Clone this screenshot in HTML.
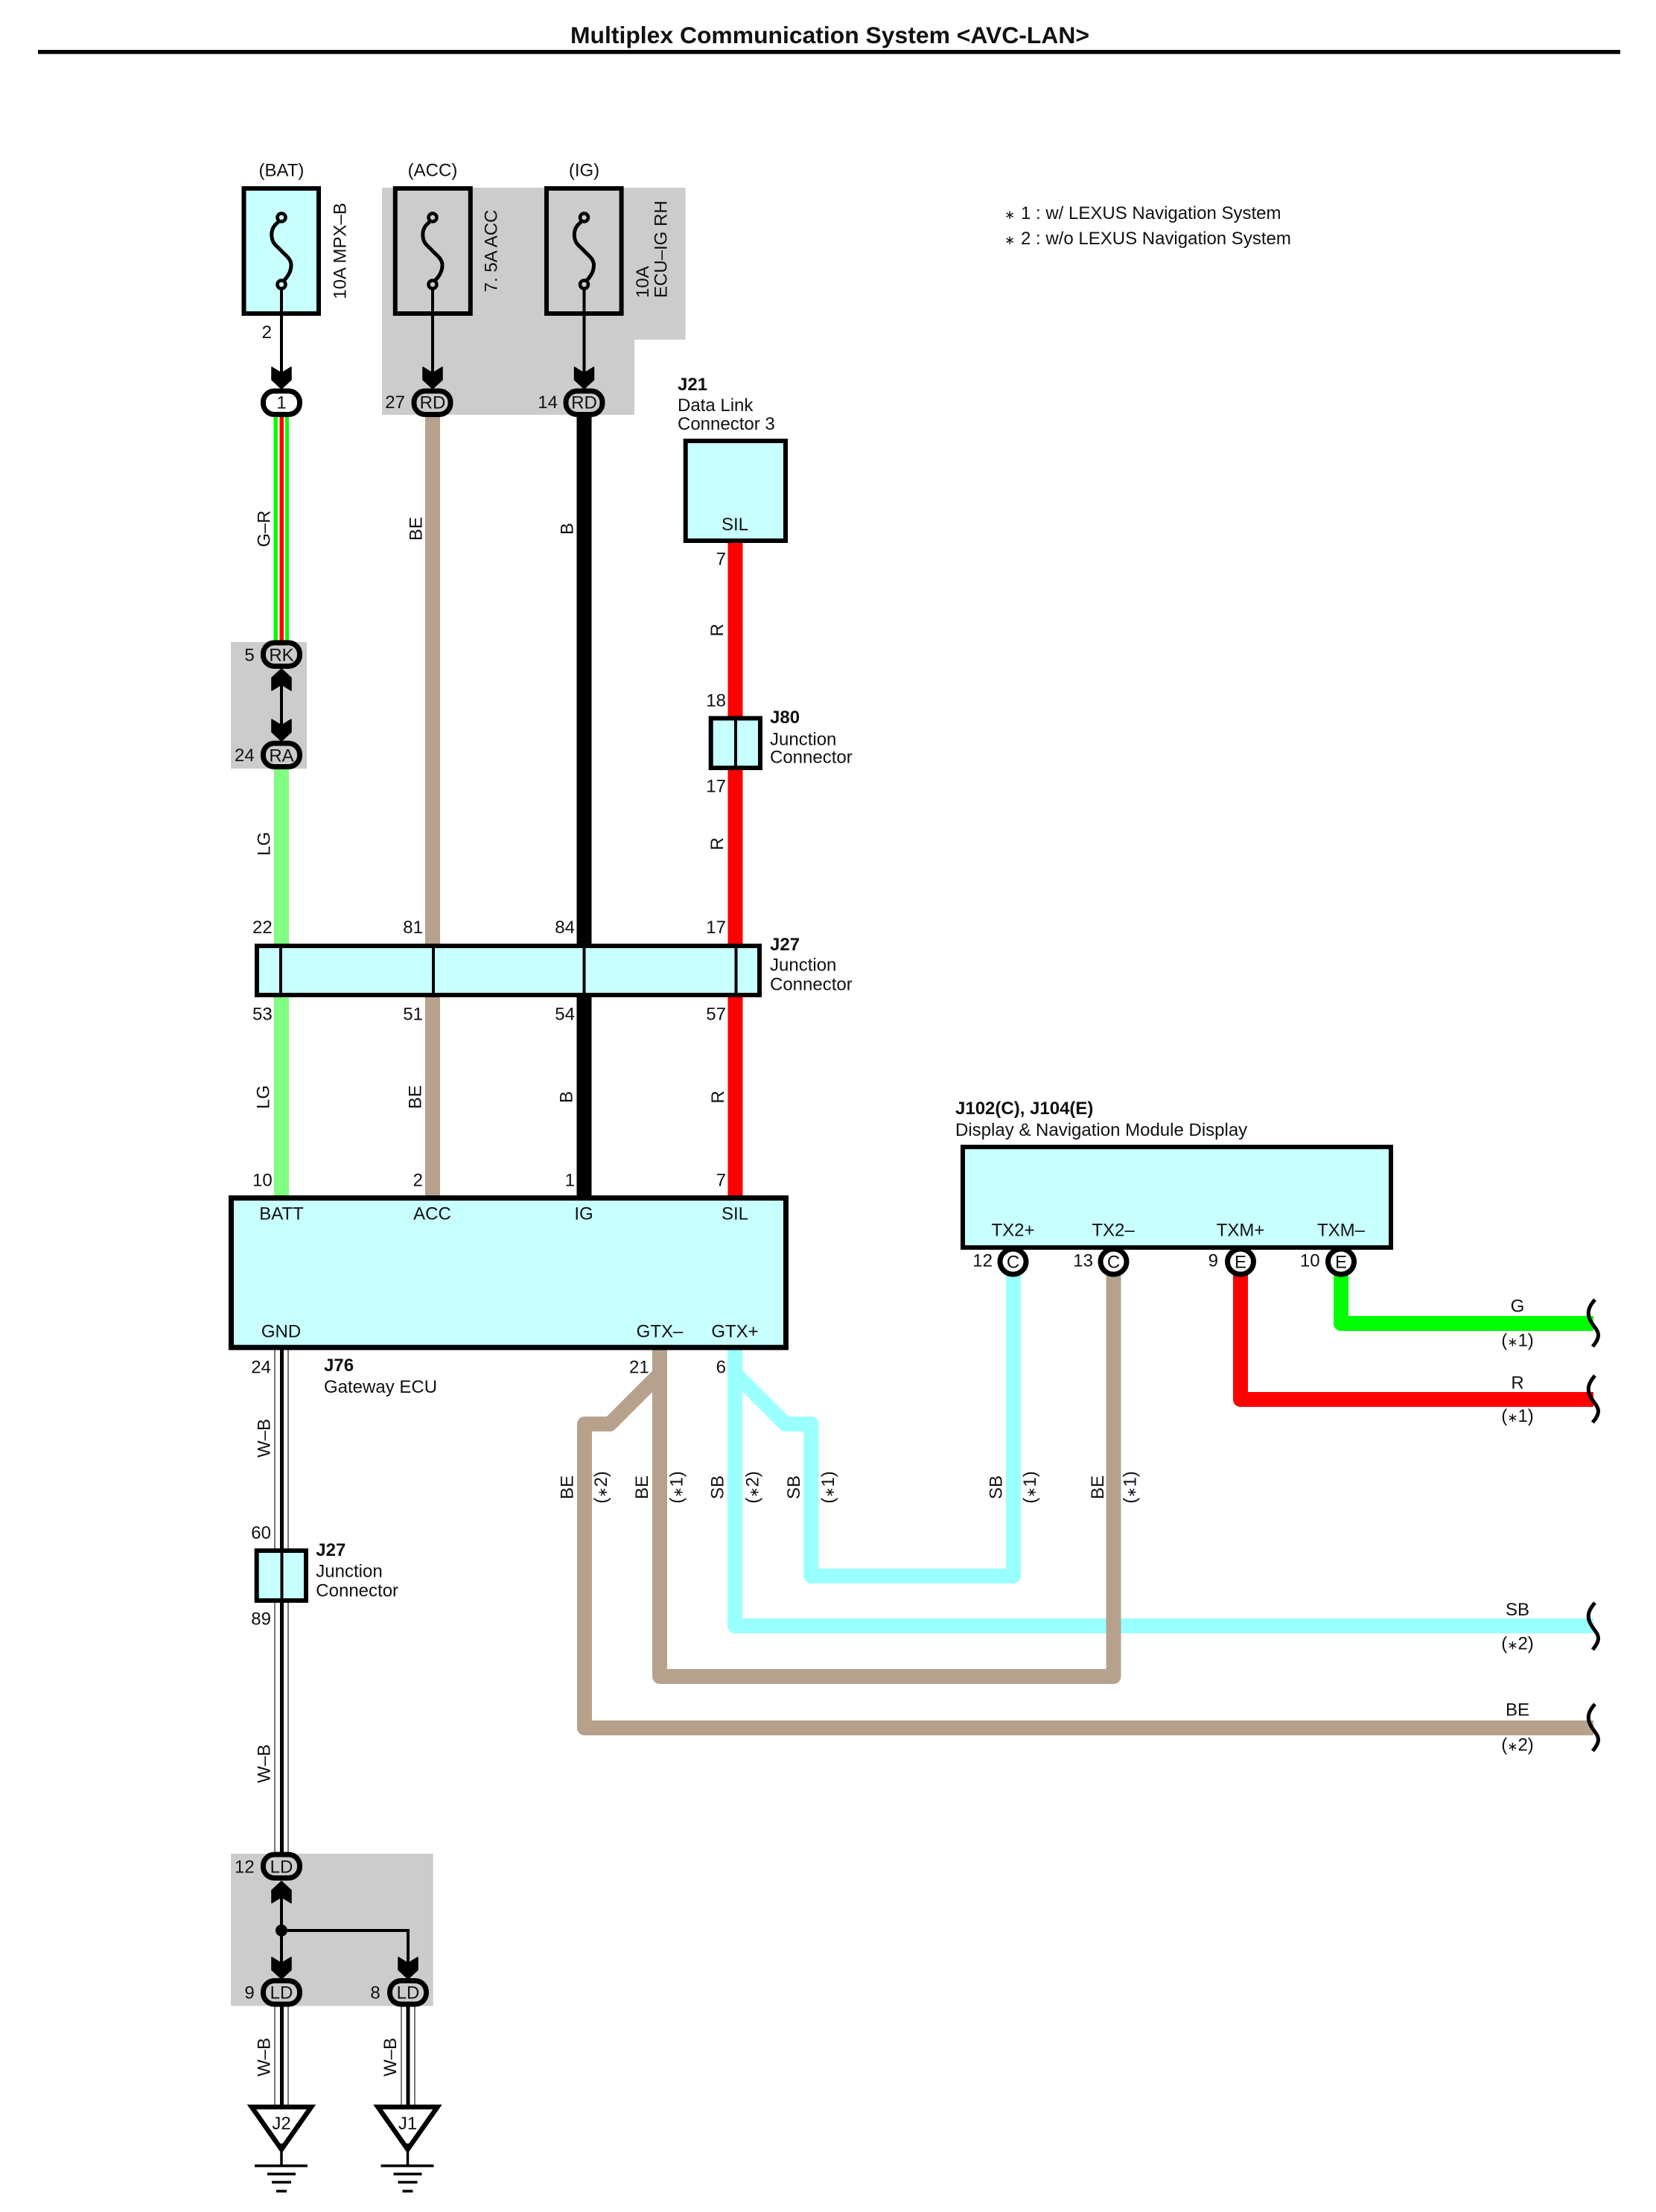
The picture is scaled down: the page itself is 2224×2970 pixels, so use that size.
<!DOCTYPE html>
<html><head><meta charset="utf-8"><title>Multiplex Communication System</title>
<style>
html,body{margin:0;padding:0;background:#fff}
svg{display:block}
text{font-family:"Liberation Sans",Arial,sans-serif;font-size:24px;fill:#111}
.m{text-anchor:middle}.e{text-anchor:end}
.b{font-weight:bold}
.s{font-size:17px}
</style></head><body>
<svg xmlns="http://www.w3.org/2000/svg" width="2224" height="2970" viewBox="0 0 2224 2970">
<defs>
<path id="ad" d="M0,0 L-13,-12 L-13,-29 L0,-21 L13,-29 L13,-12 Z" fill="#000" stroke="#000" stroke-width="1.5" stroke-linejoin="round"/>
<path id="sq" d="M2142,0 C2134,9 2131,17 2135,26 C2139,36 2149,42 2146,51 C2145,56 2141,60 2139,63" fill="none" stroke="#000" stroke-width="5"/>
<g id="gnd" fill="none" stroke="#000" stroke-width="3.5">
<path d="M0,-6 V24"/><path d="M-36,24 H35" /><path d="M-19,35 H19" /><path d="M-13,46 H13"/><path d="M-7,58 H7"/>
</g>
</defs>
<rect width="2224" height="2970" fill="#fff"/>

<!-- Title -->
<text x="766" y="58" class="b" style="font-size:31.7px" textLength="697" lengthAdjust="spacingAndGlyphs">Multiplex Communication System &lt;AVC-LAN&gt;</text>
<rect x="51" y="67" width="2125" height="5.5" fill="#000"/>

<!-- Gray regions -->
<path d="M513,252 H920.6 V456 H852 V557 H513 Z" fill="#ccc"/>
<rect x="310" y="862" width="102" height="170" fill="#ccc"/>
<rect x="310" y="2489" width="271.7" height="204.3" fill="#ccc"/>

<!-- G-R striped wire -->
<rect x="367.5" y="558" width="20.5" height="304" fill="#00ff00"/>
<rect x="373" y="558" width="10" height="304" fill="#fff"/>
<rect x="375.5" y="558" width="5.5" height="304" fill="#ff0000"/>

<!-- Vertical wires -->
<g fill="none" stroke-width="20">
<path d="M378,1032 V1610" stroke="#80ff80"/>
<path d="M581,556 V1610" stroke="#b6a28c"/>
<path d="M784.5,556 V1610" stroke="#000"/>
<path d="M987.5,727 V1610" stroke="#ff0000"/>
</g>

<!-- W-B wires -->
<g fill="none">
<g stroke="#777" stroke-width="2">
<path d="M369,1810 V2490 M387,1810 V2490 M369,2692 V2826 M387,2692 V2826 M539,2692 V2826 M557,2692 V2826"/>
</g>
<path d="M378.5,1810 V2490 M378.5,2692 V2826 M548,2692 V2826" stroke="#000" stroke-width="5"/>
</g>

<!-- lower harness wires -->
<g fill="none" stroke-width="20" stroke-linejoin="round">
<path d="M987,1810 V2183 H2140" stroke="#99ffff"/>
<path d="M987,1844 L1055,1912 H1089.5 V2116 H1361 V1710" stroke="#99ffff"/>
<path d="M886,1810 V2251 H1495.5 V1710" stroke="#b6a28c"/>
<path d="M886,1845 L819,1912 H785 V2320 H2140" stroke="#b6a28c"/>
<path d="M1666,1710 V1879 H2140" stroke="#ff0000"/>
<path d="M1801,1710 V1777 H2140" stroke="#00ff00"/>
</g>

<!-- Squiggles -->
<use href="#sq" y="1745"/><use href="#sq" y="1847"/><use href="#sq" y="2152"/><use href="#sq" y="2288"/>

<!-- Fuses -->
<g stroke="#000" stroke-width="6">
<rect x="327.5" y="253" width="100.5" height="168" fill="#c8ffff"/>
<rect x="530.8" y="253" width="101" height="168" fill="none"/>
<rect x="734" y="253" width="100.6" height="168" fill="none"/>
</g>
<g fill="none" stroke="#000">
<path d="M378,387 V505 M581,387 V505 M784.5,387 V505" stroke-width="4"/>
<g stroke-width="5">
<path d="M374,298 C367,303 364,310 365,318 C366,328 373,331 378,337 C385,344 391,348 391,356 C391,365 386,372 381,377"/>
<path d="M577,298 C570,303 567,310 568,318 C569,328 576,331 581,337 C588,344 594,348 594,356 C594,365 589,372 584,377"/>
<path d="M780.5,298 C773.5,303 770.5,310 771.5,318 C772.5,328 779.5,331 784.5,337 C791.5,344 797.5,348 797.5,356 C797.5,365 792.5,372 787.5,377"/>
</g>
<g stroke-width="4.5">
<ellipse cx="378" cy="292" rx="5.5" ry="5.5" fill="#c8ffff"/><ellipse cx="378" cy="382" rx="5.5" ry="5.5" fill="#c8ffff"/>
<ellipse cx="581" cy="292" rx="5.5" ry="5.5" fill="#ccc"/><ellipse cx="581" cy="382" rx="5.5" ry="5.5" fill="#ccc"/>
<ellipse cx="784.5" cy="292" rx="5.5" ry="5.5" fill="#ccc"/><ellipse cx="784.5" cy="382" rx="5.5" ry="5.5" fill="#ccc"/>
</g>
<path d="M378,900 V995" stroke-width="4"/>
<path d="M378,2526 V2657 M378,2592 H548 V2657" stroke-width="4"/>
</g>
<circle cx="378" cy="2592" r="8" fill="#000"/>

<!-- Arrowheads -->
<use href="#ad" x="378" y="522"/><use href="#ad" x="581" y="522"/><use href="#ad" x="784.5" y="522"/>
<use href="#ad" x="378" y="995"/>
<use href="#ad" transform="translate(378,898) rotate(180)"/>
<use href="#ad" transform="translate(378,2526) rotate(180)"/>
<use href="#ad" x="378" y="2657"/><use href="#ad" x="548" y="2657"/>

<!-- Boxes -->
<g stroke="#000" fill="#c8ffff">
<rect x="345" y="1270" width="675" height="66" stroke-width="6"/>
<rect x="310.5" y="1608.5" width="745" height="200.7" stroke-width="7"/>
<rect x="920.7" y="592" width="134.3" height="134" stroke-width="6"/>
<rect x="954.7" y="964.4" width="66.3" height="66.6" stroke-width="6"/>
<rect x="344.7" y="2082" width="66.3" height="67" stroke-width="6"/>
<rect x="1293" y="1540" width="575" height="135" stroke-width="6"/>
</g>
<path d="M377,1270 V1336 M582,1270 V1336 M784.5,1270 V1336 M988.5,1270 V1336 M988,964 V1031 M378.5,2082 V2149" stroke="#000" stroke-width="4" fill="none"/>

<!-- Oval connectors -->
<g stroke="#000" stroke-width="7">
<rect x="353.5" y="525" width="49" height="31.5" rx="15" fill="#fff"/>
<rect x="556" y="525" width="49" height="31.5" rx="15" fill="#ccc"/>
<rect x="760" y="525" width="49" height="31.5" rx="15" fill="#ccc"/>
<rect x="353.5" y="863" width="49" height="31.5" rx="15" fill="#ccc"/>
<rect x="353.5" y="998" width="49" height="31.5" rx="15" fill="#ccc"/>
<rect x="353.5" y="2490" width="49" height="31.5" rx="15" fill="#ccc"/>
<rect x="353.5" y="2659.5" width="49" height="31.5" rx="15" fill="#ccc"/>
<rect x="523.5" y="2659.5" width="49" height="31.5" rx="15" fill="#ccc"/>
<ellipse cx="1360.5" cy="1694" rx="17.5" ry="17" fill="#fff"/>
<ellipse cx="1495.5" cy="1694" rx="17.5" ry="17" fill="#fff"/>
<ellipse cx="1666" cy="1694" rx="17.5" ry="17" fill="#fff"/>
<ellipse cx="1801" cy="1694" rx="17.5" ry="17" fill="#fff"/>
</g>

<!-- Ground triangles -->
<g fill="#fff" stroke="#000" stroke-width="6.5" stroke-linejoin="miter">
<path d="M338,2829 H418 L378,2886 Z"/>
<path d="M507.5,2829 H587.5 L547.5,2886 Z"/>
</g>
<use href="#gnd" x="378" y="2884"/><use href="#gnd" x="547.5" y="2884"/>

<!-- Text: power sources -->
<text x="378" y="236.5" class="m">(BAT)</text>
<text x="581" y="236.5" class="m">(ACC)</text>
<text x="784.5" y="236.5" class="m">(IG)</text>
<text transform="translate(464.5,337) rotate(-90)" class="m">10A MPX–B</text>
<text transform="translate(667.5,337) rotate(-90)" class="m">7. 5A ACC</text>
<text transform="translate(871,400) rotate(-90)">10A</text>
<text transform="translate(895.5,400) rotate(-90)">ECU–IG RH</text>
<text x="365" y="454" class="e">2</text>
<text x="378" y="548.5" class="m">1</text>
<text x="581" y="548.5" class="m">RD</text>
<text x="784.5" y="548.5" class="m">RD</text>
<text x="544" y="548" class="e">27</text>
<text x="749" y="548" class="e">14</text>

<!-- Rotated wire labels -->
<text transform="translate(362.5,710) rotate(-90)" class="m">G–R</text>
<text transform="translate(566.5,710) rotate(-90)" class="m">BE</text>
<text transform="translate(769.5,710) rotate(-90)" class="m">B</text>
<text transform="translate(971,846) rotate(-90)" class="m">R</text>
<text transform="translate(971,1133) rotate(-90)" class="m">R</text>
<text transform="translate(362.5,1133) rotate(-90)" class="m">LG</text>
<text transform="translate(361.5,1473) rotate(-90)" class="m">LG</text>
<text transform="translate(565.5,1473) rotate(-90)" class="m">BE</text>
<text transform="translate(768.5,1473) rotate(-90)" class="m">B</text>
<text transform="translate(972,1473) rotate(-90)" class="m">R</text>
<text transform="translate(362.5,1931) rotate(-90)" class="m">W–B</text>
<text transform="translate(362.5,2368) rotate(-90)" class="m">W–B</text>
<text transform="translate(362.5,2762) rotate(-90)" class="m">W–B</text>
<text transform="translate(532,2762) rotate(-90)" class="m">W–B</text>

<!-- Branch labels -->
<text transform="translate(769.5,1997) rotate(-90)" class="m">BE</text>
<text transform="translate(815,1997) rotate(-90)" class="m">(<tspan class="s">∗</tspan>2)</text>
<text transform="translate(870,1997) rotate(-90)" class="m">BE</text>
<text transform="translate(916.5,1997) rotate(-90)" class="m">(<tspan class="s">∗</tspan>1)</text>
<text transform="translate(971.5,1997) rotate(-90)" class="m">SB</text>
<text transform="translate(1018.5,1997) rotate(-90)" class="m">(<tspan class="s">∗</tspan>2)</text>
<text transform="translate(1074,1997) rotate(-90)" class="m">SB</text>
<text transform="translate(1120,1997) rotate(-90)" class="m">(<tspan class="s">∗</tspan>1)</text>
<text transform="translate(1345.5,1997) rotate(-90)" class="m">SB</text>
<text transform="translate(1391,1997) rotate(-90)" class="m">(<tspan class="s">∗</tspan>1)</text>
<text transform="translate(1482,1997) rotate(-90)" class="m">BE</text>
<text transform="translate(1525.5,1997) rotate(-90)" class="m">(<tspan class="s">∗</tspan>1)</text>

<!-- RK/RA -->
<text x="378" y="887.5" class="m">RK</text>
<text x="378" y="1022.5" class="m">RA</text>
<text x="341.7" y="887.5" class="e">5</text>
<text x="341.7" y="1022" class="e">24</text>

<!-- J21 / J80 -->
<text x="910" y="524" class="b">J21</text>
<text x="910" y="552">Data Link</text>
<text x="910" y="577">Connector 3</text>
<text x="987" y="712" class="m">SIL</text>
<text x="975" y="758.5" class="e">7</text>
<text x="975" y="948.5" class="e">18</text>
<text x="975" y="1063.5" class="e">17</text>
<text x="1034" y="971" class="b">J80</text>
<text x="1034" y="1000.5">Junction</text>
<text x="1034" y="1024.5">Connector</text>

<!-- J27 -->
<text x="1034" y="1276" class="b">J27</text>
<text x="1034" y="1303.5">Junction</text>
<text x="1034" y="1329.5">Connector</text>
<text x="365.7" y="1253" class="e">22</text>
<text x="568" y="1253" class="e">81</text>
<text x="772" y="1253" class="e">84</text>
<text x="975" y="1253" class="e">17</text>
<text x="365.7" y="1369.5" class="e">53</text>
<text x="568" y="1369.5" class="e">51</text>
<text x="772" y="1369.5" class="e">54</text>
<text x="975" y="1369.5" class="e">57</text>
<text x="365.7" y="1592.5" class="e">10</text>
<text x="568" y="1592.5" class="e">2</text>
<text x="772" y="1592.5" class="e">1</text>
<text x="975" y="1592.5" class="e">7</text>

<!-- ECU -->
<text x="378" y="1637.5" class="m">BATT</text>
<text x="580.5" y="1637.5" class="m">ACC</text>
<text x="784" y="1637.5" class="m">IG</text>
<text x="987" y="1637.5" class="m">SIL</text>
<text x="377.5" y="1795.5" class="m">GND</text>
<text x="886" y="1795.5" class="m">GTX–</text>
<text x="987" y="1795.5" class="m">GTX+</text>
<text x="364" y="1843.5" class="e">24</text>
<text x="871.7" y="1843.5" class="e">21</text>
<text x="975" y="1843.5" class="e">6</text>
<text x="435" y="1841" class="b">J76</text>
<text x="435" y="1870">Gateway ECU</text>

<!-- small J27 -->
<text x="364" y="2066" class="e">60</text>
<text x="364" y="2181.5" class="e">89</text>
<text x="424.3" y="2089" class="b">J27</text>
<text x="424.3" y="2117.5">Junction</text>
<text x="424.3" y="2143.5">Connector</text>

<!-- LD -->
<text x="378" y="2514.5" class="m">LD</text>
<text x="378" y="2683.5" class="m">LD</text>
<text x="548" y="2683.5" class="m">LD</text>
<text x="341.7" y="2514.5" class="e">12</text>
<text x="341.7" y="2683.5" class="e">9</text>
<text x="510.7" y="2683.5" class="e">8</text>
<text x="378" y="2859" class="m">J2</text>
<text x="547.5" y="2859" class="m">J1</text>

<!-- Legend -->
<text x="1349" y="294" class="s">∗</text><text x="1371" y="294">1 : w/ LEXUS Navigation System</text>
<text x="1349" y="328" class="s">∗</text><text x="1371" y="328">2 : w/o LEXUS Navigation System</text>

<!-- Display -->
<text x="1283" y="1496" class="b">J102(C), J104(E)</text>
<text x="1283" y="1525">Display &amp; Navigation Module Display</text>
<text x="1360.5" y="1659.5" class="m">TX2+</text>
<text x="1495" y="1659.5" class="m">TX2–</text>
<text x="1666" y="1659.5" class="m">TXM+</text>
<text x="1801" y="1659.5" class="m">TXM–</text>
<text x="1360.5" y="1702.5" class="m">C</text>
<text x="1495.5" y="1702.5" class="m">C</text>
<text x="1666" y="1702.5" class="m">E</text>
<text x="1801" y="1702.5" class="m">E</text>
<text x="1333" y="1700.5" class="e">12</text>
<text x="1468" y="1700.5" class="e">13</text>
<text x="1636" y="1700.5" class="e">9</text>
<text x="1772.6" y="1700.5" class="e">10</text>

<!-- Right-side labels -->
<text x="2038" y="1761.5" class="m">G</text>
<text x="2038" y="1807.5" class="m">(<tspan class="s">∗</tspan>1)</text>
<text x="2038" y="1864.5" class="m">R</text>
<text x="2038" y="1909" class="m">(<tspan class="s">∗</tspan>1)</text>
<text x="2038" y="2169" class="m">SB</text>
<text x="2038" y="2214.5" class="m">(<tspan class="s">∗</tspan>2)</text>
<text x="2038" y="2303.5" class="m">BE</text>
<text x="2038" y="2350.5" class="m">(<tspan class="s">∗</tspan>2)</text>
</svg>
</body></html>
